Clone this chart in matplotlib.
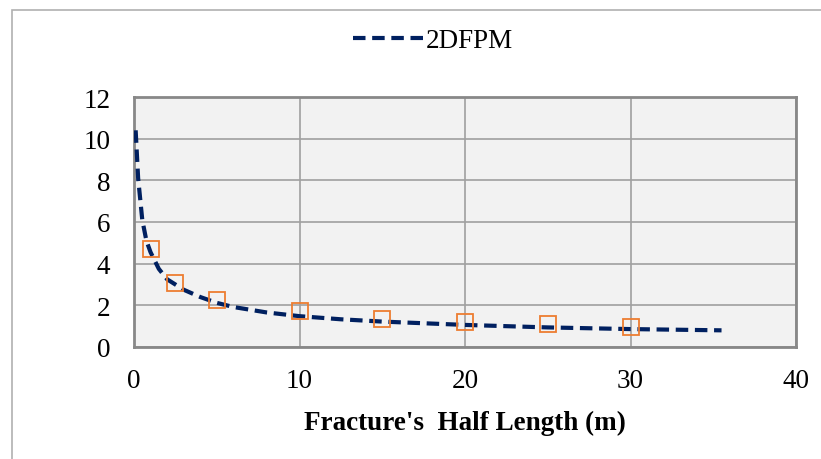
import matplotlib.pyplot as plt
from matplotlib.patches import Rectangle

# curve (2DFPM)
line_x = [0.1, 0.25, 0.5, 0.75, 1, 1.5, 2, 3, 4, 5, 6, 8, 10, 12.5, 15, 20, 25, 30, 35.5]
line_y = [10.4, 8.1, 6.1, 5.1, 4.55, 3.75, 3.25, 2.75, 2.4, 2.12, 1.92, 1.66, 1.48, 1.33, 1.22, 1.06, 0.94, 0.86, 0.8]

# square markers
pts_x = [1, 2.5, 5, 10, 15, 20, 25, 30]
pts_y = [4.7, 3.07, 2.27, 1.73, 1.34, 1.2, 1.1, 0.96]

xticks = [0, 10, 20, 30, 40]
yticks = [0, 2, 4, 6, 8, 10, 12]

plt.rcParams['font.family'] = ['Liberation Serif', 'DejaVu Serif']

fig = plt.figure(figsize=(8.21, 4.6), dpi=100)
ax = fig.add_axes([134/821, 1-348/460, (796-134)/821, (348-98)/460])

fig.patches.append(Rectangle((12/821, -0.1), 1.2, 1-11/460+0.1, transform=fig.transFigure,
                             fill=False, edgecolor='#b0b0b0', linewidth=1.2))

ax.set_facecolor('#f2f2f2')
ax.plot(line_x, line_y, color='#002060', linestyle=(0, (3, 1.6)), linewidth=3, label='2DFPM', zorder=3)
ax.plot(pts_x, pts_y, linestyle='none', marker='s', markersize=12, markerfacecolor='none',
        markeredgecolor='#ED7D31', markeredgewidth=1.3, zorder=4)

ax.set_xlim(0, 40)
ax.set_ylim(0, 12)
ax.set_xticks(xticks)
ax.set_yticks(yticks)
ax.grid(True, color='#a0a0a0', linewidth=1.2)
ax.set_axisbelow(True)
ax.tick_params(length=0, labelsize=19.5, pad=15)
ax.tick_params(axis='y', pad=17)
for s in ax.spines.values():
    s.set_color('#888888')
    s.set_linewidth(2)

ax.set_xlabel("Fracture's  Half Length (m)", fontsize=19.5, fontweight='bold', labelpad=12)

leg = fig.legend(loc='center', bbox_to_anchor=(433/821, 1-42/460), frameon=False, fontsize=19.5,
                 handlelength=2.6, handletextpad=0.05)

fig.savefig('out.png', dpi=100)
